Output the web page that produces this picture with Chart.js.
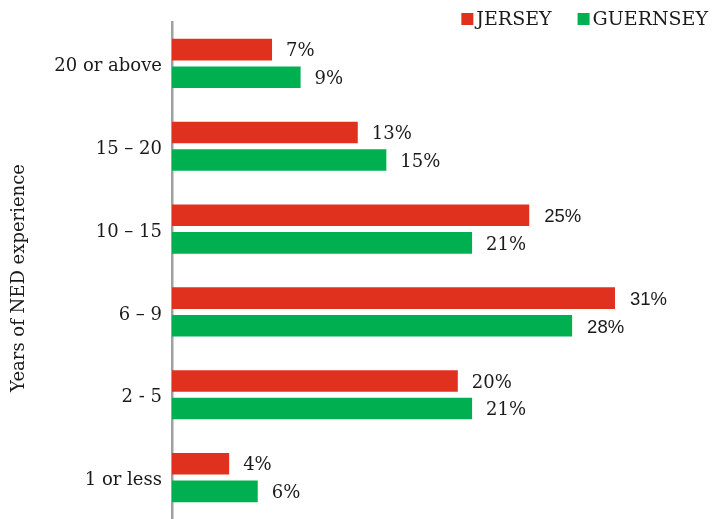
<!DOCTYPE html>
<html>
<head>
<meta charset="utf-8">
<script src="https://cdn.jsdelivr.net/npm/chart.js@4.4.1/dist/chart.umd.min.js"></script>
<style>
  html, body { margin: 0; padding: 0; background: #ffffff; }
  #wrap { width: 721px; height: 519px; position: relative; }
</style>
</head>
<body>
<div id="wrap"><canvas id="chart" width="721" height="519"></canvas></div>
<script>
// Years of non-executive director experience, share of respondents (%)
const categories = ['20 or above', '15 – 20', '10 – 15', '6 – 9', '2 - 5', '1 or less'];
const jerseyValues = [7, 13, 25, 31, 20, 4];
const guernseyValues = [9, 15, 21, 28, 21, 6];
const seriesNames = ['JERSEY', 'GUERNSEY'];
const axisTitle = 'Years of NED experience';

const RED = '#E0301E';
const GREEN = '#00B050';
const SERIF = '"DejaVu Serif", Georgia, serif';
const SANS = '"Liberation Sans", Arial, sans-serif';
const TEXT = '#1a1a1a';

// A few value labels are set in a sans face; the rest use the serif face.
const sansLabels = { '0:2': true, '0:3': true, '1:3': true };

const valueLabels = {
  id: 'valueLabels',
  afterDatasetsDraw(chart) {
    const ctx = chart.ctx;
    ctx.save();
    ctx.fillStyle = TEXT;
    ctx.textAlign = 'left';
    ctx.textBaseline = 'middle';
    chart.data.datasets.forEach((ds, di) => {
      const meta = chart.getDatasetMeta(di);
      meta.data.forEach((bar, i) => {
        const sans = sansLabels[di + ':' + i];
        ctx.font = sans ? '18.5px ' + SANS : '18px ' + SERIF;
        ctx.fillText(ds.data[i] + '%', bar.x + (sans ? 15 : 14), bar.y + 2);
      });
    });
    ctx.restore();
  }
};

// Rotated axis title on the far left
const axisTitlePlugin = {
  id: 'axisTitlePlugin',
  afterDraw(chart) {
    const ctx = chart.ctx;
    ctx.save();
    ctx.font = '18px ' + SERIF;
    ctx.fillStyle = TEXT;
    ctx.textAlign = 'center';
    ctx.textBaseline = 'middle';
    ctx.translate(19, 278);
    ctx.rotate(-Math.PI / 2);
    ctx.fillText(axisTitle, 0, 0);
    ctx.restore();
  }
};

const squareLegend = {
  id: 'squareLegend',
  afterDraw(chart) {
    const ctx = chart.ctx;
    ctx.save();
    ctx.font = '19px ' + SERIF;
    ctx.textBaseline = 'alphabetic';
    const box = 12, gap = 3, itemGap = 26;
    const items = chart.data.datasets.map(ds => ({ text: ds.label, color: ds.backgroundColor, w: ctx.measureText(ds.label).width }));
    const total = items.reduce((s, it) => s + box + gap + it.w, 0) + itemGap * (items.length - 1);
    let x = 708 - total;
    items.forEach(it => {
      ctx.fillStyle = it.color;
      ctx.fillRect(x, 13, box, box);
      ctx.fillStyle = TEXT;
      ctx.fillText(it.text, x + box + gap, 25);
      x += box + gap + it.w + itemGap;
    });
    ctx.restore();
  }
};

new Chart(document.getElementById('chart'), {
  type: 'bar',
  data: {
    labels: categories,
    datasets: [
      { label: seriesNames[0], data: jerseyValues, backgroundColor: RED },
      { label: seriesNames[1], data: guernseyValues, backgroundColor: GREEN }
    ]
  },
  options: {
    indexAxis: 'y',
    responsive: false,
    animation: false,
    devicePixelRatio: 1,
    layout: { padding: { top: 22, right: 6, bottom: 0, left: 0 } },
    datasets: { bar: { categoryPercentage: 0.667, barPercentage: 0.78 } },
    plugins: { legend: { display: false }, tooltip: { enabled: false } },
    scales: {
      x: { display: false, min: 0, max: 38 },
      y: {
        grid: { display: false, drawTicks: false },
        border: { display: true, color: '#a0a0a0', width: 2.5 },
        ticks: { color: TEXT, padding: 10, labelOffset: 3, font: { family: SERIF, size: 18 } },
        afterFit(scale) {
          scale.width = 172;
          scale.paddingTop = 0;
          scale.paddingBottom = 0;
        }
      }
    }
  },
  plugins: [valueLabels, axisTitlePlugin, squareLegend]
});
</script>
</body>
</html>
